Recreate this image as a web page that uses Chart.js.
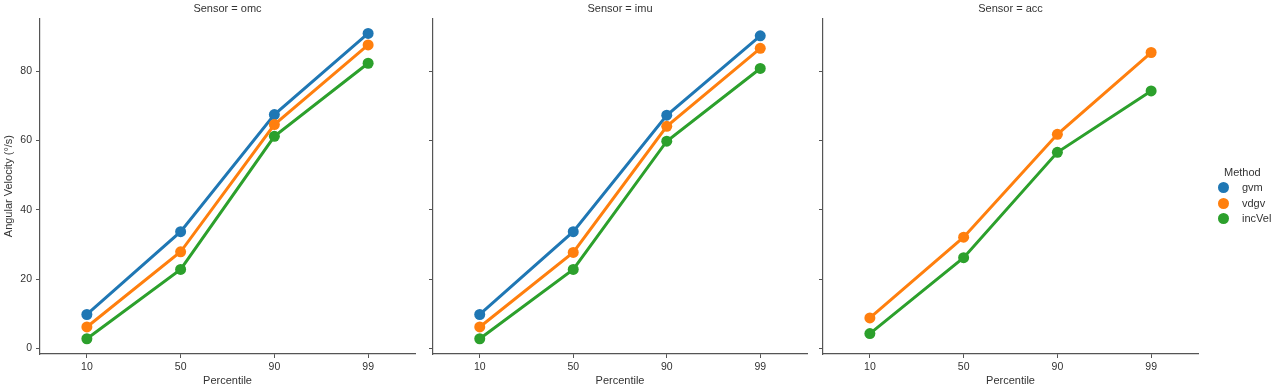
<!DOCTYPE html>
<html>
<head>
<meta charset="utf-8">
<script src="https://cdn.jsdelivr.net/npm/chart.js@4.4.1/dist/chart.umd.min.js"></script>
<style>
  html, body { margin: 0; padding: 0; background: #fff; }
  body { width: 1280px; height: 389px; position: relative; overflow: hidden; font-family: "Liberation Sans", Arial, sans-serif; }
  canvas { position: absolute; top: 0; }
  #legend { position: absolute; left: 1212px; top: 164px; color: #333; font-size: 11px; }
  #legend .ttl { margin-left: 12px; height: 16px; line-height: 16px; }
  #legend .item { height: 15.5px; line-height: 15.5px; display: flex; align-items: center; }
  #legend .dot { width: 11px; height: 11px; border-radius: 50%; margin-left: 6px; margin-right: 13px; }
</style>
</head>
<body>
<canvas id="c0" width="440" height="389" style="left:0px"></canvas>
<canvas id="c1" width="420" height="389" style="left:420px"></canvas>
<canvas id="c2" width="420" height="389" style="left:810px"></canvas>
<div id="legend"></div>
<script>
// ---- data ----
const percentiles = ["10", "50", "90", "99"];
const sensors = ["omc", "imu", "acc"];
const methods = ["gvm", "vdgv", "incVel"];
const methodColors = ["#1f77b4", "#ff7f0e", "#2ca02c"];
const yTicks = [0, 20, 40, 60, 80];

const omc_gvm    = [9.8, 33.7, 67.5, 90.9];
const omc_vdgv   = [6.2, 27.9, 64.6, 87.6];
const omc_incVel = [2.8, 22.8, 61.2, 82.3];

const imu_gvm    = [9.8, 33.7, 67.3, 90.2];
const imu_vdgv   = [6.2, 27.7, 64.1, 86.6];
const imu_incVel = [2.8, 22.8, 59.8, 80.8];

const acc_gvm    = [null, null, null, null];
const acc_vdgv   = [8.8, 32.1, 61.8, 85.4];
const acc_incVel = [4.3, 26.2, 56.6, 74.3];

const seriesBySensor = {
  omc: [omc_gvm, omc_vdgv, omc_incVel],
  imu: [imu_gvm, imu_vdgv, imu_incVel],
  acc: [acc_gvm, acc_vdgv, acc_incVel]
};

const Y_MIN = -1.6, Y_MAX = 95.3;

Chart.defaults.font.family = '"Liberation Sans", Arial, sans-serif';
Chart.defaults.color = '#333';

const layouts = [
  { yWidth: 40, padRight: 25, showY: true },
  { yWidth: 13, padRight: 33, showY: false },
  { yWidth: 13, padRight: 32, showY: false }
];

sensors.forEach((s, i) => {
  const L = layouts[i];
  const datasets = methods.map((m, k) => ({
    label: m,
    data: seriesBySensor[s][k],
    borderColor: methodColors[k],
    backgroundColor: methodColors[k],
    pointBackgroundColor: methodColors[k],
    pointBorderColor: methodColors[k],
    borderWidth: 3,
    pointRadius: 5.5,
    pointBorderWidth: 0,
    tension: 0,
    order: 3 - k
  }));
  new Chart(document.getElementById('c' + i), {
    type: 'line',
    data: { labels: percentiles, datasets },
    options: {
      responsive: false,
      animation: false,
      events: [],
      layout: { padding: { left: 0, right: L.padRight, top: 0, bottom: 0 } },
      plugins: {
        legend: { display: false },
        tooltip: { enabled: false },
        title: {
          display: true,
          text: 'Sensor = ' + s,
          fullSize: false,
          color: '#333',
          font: { size: 11, weight: 'normal' },
          padding: { top: 2, bottom: 3 }
        }
      },
      scales: {
        x: {
          type: 'category',
          offset: true,
          afterFit: (sc) => { sc.height = 35; },
          grid: { display: true, drawOnChartArea: false, drawTicks: true, tickLength: 4, tickColor: '#555', offset: false },
          border: { display: true, color: '#555', width: 1.2 },
          ticks: { font: { size: 10.5 }, color: '#333', padding: 3, maxRotation: 0 },
          title: { display: true, text: 'Percentile', font: { size: 11 }, color: '#333', padding: { top: 0, bottom: 1 } }
        },
        y: {
          type: 'linear',
          min: Y_MIN,
          max: Y_MAX,
          afterFit: (sc) => { sc.width = L.yWidth; },
          afterBuildTicks: (sc) => { sc.ticks = yTicks.map(v => ({ value: v })); },
          grid: { display: true, drawOnChartArea: false, drawTicks: true, tickLength: 4, tickColor: '#555' },
          border: { display: true, color: '#555', width: 1.2 },
          ticks: { display: L.showY, font: { size: 10.5 }, color: '#333', padding: 4, includeBounds: false },
          title: { display: L.showY, text: 'Angular Velocity (°/s)', font: { size: 11 }, color: '#333', padding: { top: 2, bottom: 0 } }
        }
      }
    }
  });
});

// legend (HTML, built from the method arrays)
const lg = document.getElementById('legend');
const t = document.createElement('div');
t.className = 'ttl';
t.textContent = 'Method';
lg.appendChild(t);
methods.forEach((m, k) => {
  const it = document.createElement('div');
  it.className = 'item';
  const d = document.createElement('span');
  d.className = 'dot';
  d.style.background = methodColors[k];
  const tx = document.createElement('span');
  tx.textContent = m;
  it.appendChild(d); it.appendChild(tx);
  lg.appendChild(it);
});
</script>
</body>
</html>
